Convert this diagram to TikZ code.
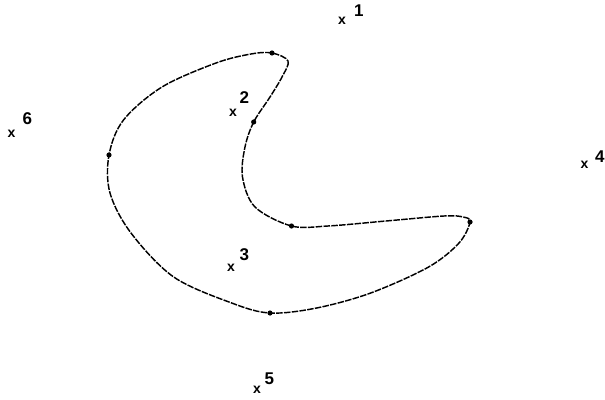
\documentclass[tikz,border=0pt]{standalone}
\usepackage{fontspec}
\setmainfont{Liberation Sans}
\begin{document}
\begin{tikzpicture}[x=1pt,y=-1pt,
  xlab/.style={anchor=base west,inner sep=0pt,font=\fontsize{14}{14}\selectfont\bfseries},
  dlab/.style={anchor=base west,inner sep=0pt,font=\fontsize{17}{17}\selectfont\bfseries},
  curve/.style={line width=1.45pt,dash pattern=on 6.5pt off 1.3pt},
  pt/.style={circle,fill=black,inner sep=0pt,minimum size=5.2pt}]
\useasboundingbox (0,0) rectangle (605,399);
\draw[curve] plot[smooth cycle,tension=0.55] coordinates {
 (272,53) (288,61) (282,77) (270,97) (253.7,122) (245,147) (242.5,177) (255,207)
 (291.5,226) (328,226) (386,221) (444,216) (463,217) (470,222) (459,243)
 (428.6,267) (370.7,293) (316.6,308) (270,313) (231.7,303) (173.7,277)
 (131,233) (110,193) (109,155) (123.5,120) (162,87) (216,63) (251,54)};
\node[pt] (d1) at (272,53) {};
\node[pt] (d2) at (253.7,122) {};
\node[pt] (d3) at (109,155) {};
\node[pt] (d4) at (291.5,226) {};
\node[pt] (d5) at (470,222) {};
\node[pt] (d6) at (270,313) {};
% labels
\node[xlab] (x1) at (338,24) {x};  \node[dlab] (s1) at (354,16) {1};
\node[xlab] (x2) at (229,116) {x}; \node[dlab] (s2) at (239.5,103.5) {2};
\node[xlab] (x3) at (227,271) {x}; \node[dlab] (s3) at (239.5,260) {3};
\node[xlab] (x4) at (580.5,168.5) {x}; \node[dlab] (s4) at (595,162.5) {4};
\node[xlab] (x5) at (253,393.5) {x}; \node[dlab] (s5) at (264.5,384) {5};
\node[xlab] (x6) at (7.5,137.5) {x};   \node[dlab] (s6) at (22.5,124.5) {6};
\end{tikzpicture}
\end{document}
